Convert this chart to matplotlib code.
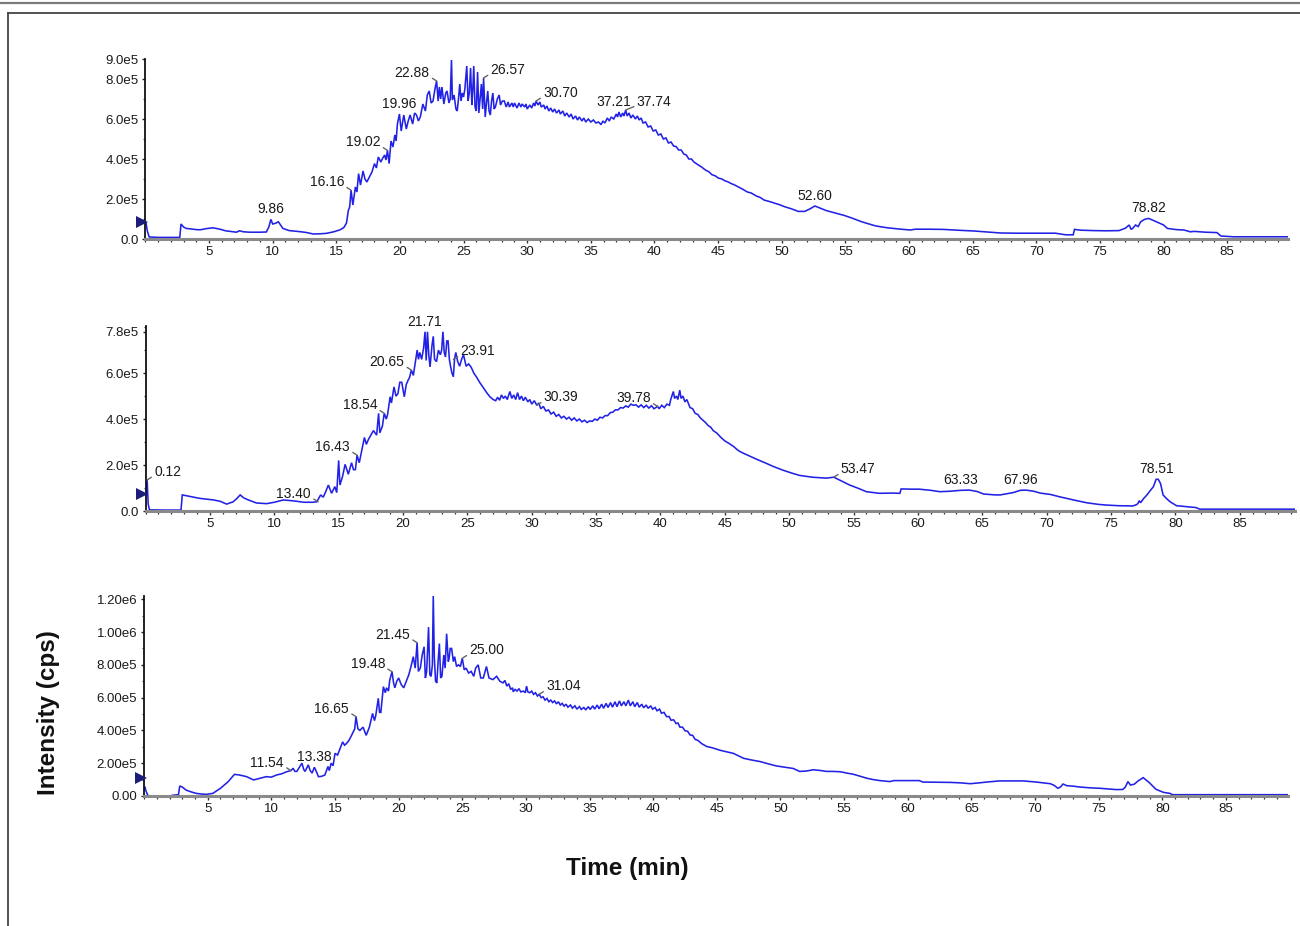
import numpy as np
import matplotlib
matplotlib.use("Agg")
import matplotlib.pyplot as plt
from matplotlib.lines import Line2D
from matplotlib.ticker import MultipleLocator
import matplotlib.transforms as mtransforms

plt.rcParams['font.family'] = ['Liberation Sans', 'DejaVu Sans']

# ---------------- data (time in min, intensity in 1e5 cps) ----------------
p1_trace = [
    (0.0, 0.85), (0.05, 0.8), (0.15, 0.4), (0.3, 0.1), (1.0, 0.08), (2.0, 0.08), (2.7, 0.08),
    (2.8, 0.75), (3.0, 0.6), (3.2, 0.53), (3.6, 0.5), (4.0, 0.47), (4.3, 0.46), (4.8, 0.52),
    (5.3, 0.56), (5.8, 0.5), (6.3, 0.41), (6.8, 0.37), (7.15, 0.34), (7.4, 0.41), (7.7, 0.36),
    (8.2, 0.34), (9.0, 0.34), (9.5, 0.35), (9.7, 0.6), (9.86, 0.98), (10.0, 0.75), (10.2, 0.78),
    (10.45, 0.86), (10.8, 0.53), (11.3, 0.42), (12.1, 0.37), (12.6, 0.33), (13.2, 0.25),
    (13.7, 0.26), (14.2, 0.28), (14.8, 0.36), (15.3, 0.46), (15.6, 0.58), (15.8, 0.8),
    (15.95, 1.44), (16.05, 1.6), (16.16, 2.44), (16.3, 1.7), (16.5, 2.6), (16.62, 2.35),
    (16.75, 3.27), (16.9, 2.7), (17.1, 3.4), (17.25, 3.0), (17.4, 2.85), (17.6, 3.1),
    (17.8, 3.35), (18.0, 3.77), (18.15, 3.55), (18.3, 4.1), (18.5, 3.85), (18.65, 4.05),
    (18.8, 4.2), (18.9, 3.95), (19.02, 4.43), (19.15, 3.77), (19.3, 4.9), (19.45, 4.6),
    (19.6, 5.2), (19.7, 4.9), (19.8, 5.75), (19.96, 6.25), (20.1, 5.4), (20.3, 6.2),
    (20.5, 5.5), (20.65, 5.9), (20.8, 6.2), (21.0, 5.75), (21.15, 6.3), (21.3, 6.2),
    (21.45, 5.9), (21.6, 6.1), (21.8, 6.75), (22.0, 6.4), (22.15, 7.2), (22.3, 7.4),
    (22.45, 6.8), (22.6, 6.9), (22.75, 7.5), (22.88, 7.9), (23.0, 6.9), (23.1, 7.6),
    (23.2, 7.0), (23.3, 7.6), (23.45, 6.75), (23.6, 7.3), (23.7, 7.4), (23.85, 6.8),
    (23.95, 7.0), (24.05, 8.95), (24.12, 6.95), (24.25, 7.2), (24.4, 6.5), (24.5, 6.4),
    (24.6, 7.0), (24.7, 7.75), (24.8, 6.9), (24.9, 7.3), (25.0, 7.1), (25.1, 7.5),
    (25.25, 8.65), (25.35, 6.9), (25.45, 7.3), (25.55, 8.55), (25.65, 6.7), (25.72, 7.4),
    (25.8, 8.65), (25.9, 6.6), (26.0, 6.4), (26.1, 8.35), (26.2, 6.3), (26.3, 7.0),
    (26.4, 7.75), (26.5, 6.5), (26.57, 8.05), (26.7, 6.1), (26.8, 6.8), (26.9, 7.4),
    (27.0, 6.4), (27.1, 6.2), (27.2, 6.9), (27.3, 7.3), (27.4, 6.5), (27.5, 6.6),
    (27.65, 7.0), (27.8, 7.2), (27.9, 6.7), (28.05, 6.9), (28.2, 6.9), (28.35, 6.6),
    (28.5, 6.85), (28.6, 6.6), (28.8, 6.8), (28.9, 6.6), (29.0, 6.8), (29.2, 6.55),
    (29.35, 6.8), (29.5, 6.6), (29.6, 6.75), (29.8, 6.6), (29.9, 6.75), (30.0, 6.5),
    (30.2, 6.7), (30.35, 6.55), (30.5, 6.8), (30.6, 6.65), (30.7, 6.9), (30.85, 6.7),
    (31.0, 6.85), (31.1, 6.6), (31.3, 6.7), (31.4, 6.5), (31.55, 6.65), (31.7, 6.4),
    (31.85, 6.55), (32.0, 6.35), (32.15, 6.5), (32.3, 6.3), (32.5, 6.45), (32.6, 6.25),
    (32.8, 6.4), (32.95, 6.15), (33.1, 6.3), (33.3, 6.1), (33.45, 6.25), (33.6, 6.0),
    (33.8, 6.15), (33.95, 5.95), (34.1, 6.1), (34.3, 5.9), (34.45, 6.05), (34.6, 5.85),
    (34.8, 6.0), (35.0, 5.85), (35.2, 5.95), (35.4, 5.8), (35.6, 5.85), (35.8, 5.72),
    (35.95, 5.9), (36.1, 5.8), (36.3, 6.05), (36.45, 5.9), (36.6, 6.1), (36.8, 6.0),
    (37.0, 6.25), (37.1, 6.1), (37.21, 6.35), (37.35, 6.1), (37.5, 6.3), (37.6, 6.15),
    (37.74, 6.45), (37.85, 6.15), (38.0, 6.3), (38.15, 6.05), (38.3, 6.2), (38.5, 6.0),
    (38.65, 6.15), (38.8, 5.95), (38.95, 6.05), (39.1, 5.8), (39.3, 5.85), (39.5, 5.6),
    (39.7, 5.65), (39.9, 5.4), (40.1, 5.45), (40.3, 5.2), (40.5, 5.25), (40.7, 5.0),
    (40.9, 5.05), (41.1, 4.8), (41.3, 4.85), (41.5, 4.65), (41.7, 4.62), (41.9, 4.45),
    (42.1, 4.45), (42.3, 4.25), (42.5, 4.2), (42.7, 4.0), (42.9, 4.0), (43.1, 3.85),
    (43.4, 3.72), (43.7, 3.6), (44.0, 3.45), (44.3, 3.35), (44.5, 3.22), (44.8, 3.15),
    (45.0, 3.05), (45.3, 3.0), (45.5, 2.92), (45.8, 2.85), (46.0, 2.78), (46.3, 2.7),
    (46.6, 2.6), (46.9, 2.5), (47.3, 2.35), (47.6, 2.3), (48.0, 2.15), (48.3, 2.08),
    (48.6, 1.95), (49.0, 1.88), (49.4, 1.8), (49.8, 1.72), (50.2, 1.62), (50.8, 1.5),
    (51.3, 1.38), (51.8, 1.38), (52.2, 1.5), (52.6, 1.65), (53.0, 1.55), (53.5, 1.42),
    (54.2, 1.3), (54.9, 1.18), (55.5, 1.05), (56.2, 0.88), (56.7, 0.78), (57.4, 0.65),
    (58.3, 0.56), (59.2, 0.5), (60.1, 0.45), (60.5, 0.49), (61.5, 0.49), (62.7, 0.48),
    (63.8, 0.44), (65.1, 0.40), (66.2, 0.35), (67.2, 0.30), (68.5, 0.29), (70.0, 0.29),
    (71.5, 0.29), (72.3, 0.21), (72.9, 0.21), (73.0, 0.48), (73.5, 0.44), (74.5, 0.42),
    (75.5, 0.41), (76.5, 0.42), (77.0, 0.54), (77.3, 0.70), (77.45, 0.48), (77.6, 0.55),
    (77.8, 0.70), (78.0, 0.62), (78.2, 0.86), (78.5, 0.98), (78.82, 1.03), (79.3, 0.9),
    (80.0, 0.70), (80.3, 0.53), (81.0, 0.47), (81.6, 0.45), (82.1, 0.36), (82.4, 0.38),
    (83.3, 0.34), (84.2, 0.32), (84.5, 0.15), (85.5, 0.11), (87.0, 0.11), (89.8, 0.11),
]

p2_trace = [
    (0.0, 0.6), (0.05, 0.9), (0.12, 1.35), (0.2, 0.3), (0.3, 0.05), (1.5, 0.04), (2.75, 0.04),
    (2.85, 0.7), (3.3, 0.65), (4.2, 0.55), (5.3, 0.48), (5.8, 0.42), (6.3, 0.30), (6.8, 0.40),
    (7.1, 0.55), (7.35, 0.70), (7.6, 0.58), (7.9, 0.5), (8.6, 0.35), (9.4, 0.32), (10.0, 0.38),
    (10.7, 0.48), (11.5, 0.44), (12.3, 0.38), (13.0, 0.38), (13.3, 0.40), (13.6, 0.70),
    (13.8, 0.6), (14.0, 0.85), (14.2, 1.13), (14.45, 0.77), (14.7, 1.06), (14.85, 0.8),
    (15.0, 2.2), (15.1, 1.13), (15.3, 1.5), (15.5, 2.03), (15.75, 1.6), (16.0, 2.1),
    (16.15, 1.8), (16.3, 1.8), (16.43, 2.43), (16.6, 2.1), (16.8, 2.65), (17.0, 3.2),
    (17.15, 2.9), (17.3, 3.1), (17.5, 3.3), (17.7, 3.5), (17.95, 3.3), (18.1, 4.25),
    (18.2, 3.4), (18.4, 3.7), (18.54, 4.25), (18.7, 4.0), (18.8, 4.2), (19.0, 4.97),
    (19.1, 4.7), (19.3, 5.4), (19.45, 5.0), (19.6, 5.1), (19.75, 5.6), (19.9, 5.6),
    (20.1, 4.97), (20.25, 5.5), (20.4, 5.7), (20.5, 5.8), (20.65, 6.13), (20.8, 5.9),
    (20.9, 6.27), (21.1, 7.0), (21.2, 6.6), (21.3, 6.9), (21.45, 6.6), (21.6, 7.1),
    (21.71, 7.8), (21.8, 6.55), (21.9, 7.8), (22.0, 6.8), (22.1, 6.27), (22.25, 7.2),
    (22.35, 7.6), (22.45, 6.6), (22.6, 6.5), (22.75, 7.0), (22.9, 6.8), (23.0, 7.0),
    (23.1, 7.8), (23.2, 6.9), (23.3, 6.7), (23.4, 7.4), (23.5, 7.4), (23.6, 6.6),
    (23.7, 6.27), (23.8, 6.0), (23.91, 5.84), (24.0, 6.6), (24.1, 6.9), (24.25, 6.5),
    (24.4, 6.3), (24.55, 6.6), (24.7, 6.8), (24.9, 6.3), (25.1, 6.4), (25.3, 6.25),
    (25.5, 6.0), (25.7, 5.84), (25.95, 5.6), (26.2, 5.4), (26.5, 5.15), (26.75, 4.97),
    (27.0, 4.85), (27.2, 4.8), (27.35, 4.95), (27.5, 4.82), (27.65, 5.05), (27.8, 4.9),
    (27.95, 5.0), (28.1, 4.85), (28.3, 5.2), (28.45, 4.9), (28.6, 5.05), (28.75, 4.85),
    (28.9, 5.15), (29.05, 4.85), (29.2, 5.0), (29.35, 4.8), (29.5, 4.95), (29.7, 4.75),
    (29.85, 4.85), (30.0, 4.65), (30.2, 4.8), (30.39, 4.6), (30.55, 4.7), (30.7, 4.45),
    (30.9, 4.55), (31.1, 4.35), (31.3, 4.4), (31.5, 4.22), (31.7, 4.3), (31.9, 4.12),
    (32.1, 4.2), (32.3, 4.05), (32.5, 4.12), (32.7, 4.0), (32.9, 4.08), (33.1, 3.95),
    (33.3, 4.05), (33.5, 3.92), (33.7, 4.0), (33.9, 3.88), (34.1, 3.95), (34.3, 3.85),
    (34.5, 3.92), (34.7, 3.9), (34.9, 4.0), (35.1, 3.95), (35.3, 4.08), (35.5, 4.05),
    (35.7, 4.15), (35.9, 4.15), (36.1, 4.28), (36.3, 4.3), (36.5, 4.4), (36.7, 4.4),
    (36.9, 4.5), (37.1, 4.48), (37.3, 4.57), (37.5, 4.52), (37.7, 4.65), (37.9, 4.6),
    (38.1, 4.62), (38.3, 4.52), (38.5, 4.62), (38.7, 4.5), (38.9, 4.6), (39.1, 4.48),
    (39.3, 4.58), (39.5, 4.45), (39.78, 4.55), (39.9, 4.45), (40.1, 4.6), (40.3, 4.5),
    (40.5, 4.65), (40.7, 4.6), (40.8, 4.85), (41.0, 5.2), (41.1, 4.9), (41.25, 5.0),
    (41.35, 4.85), (41.5, 5.26), (41.6, 4.9), (41.75, 5.0), (41.9, 4.75), (42.05, 4.85),
    (42.3, 4.5), (42.5, 4.45), (42.7, 4.25), (42.9, 4.2), (43.1, 4.05), (43.3, 3.95),
    (43.5, 3.85), (43.7, 3.72), (43.9, 3.65), (44.1, 3.5), (44.4, 3.38), (44.7, 3.2),
    (45.0, 3.05), (45.3, 2.95), (45.7, 2.8), (46.0, 2.65), (46.3, 2.55), (47.0, 2.37),
    (47.6, 2.22), (48.2, 2.08), (48.8, 1.93), (49.5, 1.78), (50.2, 1.65), (50.8, 1.55),
    (51.8, 1.47), (52.9, 1.43), (53.47, 1.47), (53.8, 1.38), (54.7, 1.13), (55.4, 0.98),
    (56.0, 0.84), (57.0, 0.77), (58.0, 0.78), (58.6, 0.77), (58.7, 0.96), (59.5, 0.95),
    (60.1, 0.95), (61.0, 0.9), (61.7, 0.84), (62.5, 0.86), (63.33, 0.9), (64.0, 0.91),
    (64.6, 0.85), (65.1, 0.74), (66.0, 0.70), (66.4, 0.70), (67.4, 0.80), (67.96, 0.9),
    (68.4, 0.91), (69.0, 0.86), (69.5, 0.78), (70.3, 0.72), (71.0, 0.62), (72.1, 0.48),
    (73.1, 0.36), (74.0, 0.29), (74.6, 0.26), (75.6, 0.23), (76.7, 0.22), (77.0, 0.28),
    (77.1, 0.33), (77.2, 0.45), (77.3, 0.36), (77.55, 0.55), (77.8, 0.70), (78.0, 0.85),
    (78.3, 1.06), (78.51, 1.38), (78.67, 1.38), (78.85, 1.2), (79.05, 0.70), (79.3, 0.55),
    (79.6, 0.40), (80.1, 0.23), (81.0, 0.18), (81.6, 0.15), (81.9, 0.08), (84.0, 0.08),
    (89.3, 0.08),
]

p3_trace = [
    (0.0, 0.4), (0.05, 0.57), (0.15, 0.3), (0.3, 0.02), (1.0, 0.0), (2.0, 0.0), (2.3, 0.05),
    (2.7, 0.08), (2.8, 0.61), (3.0, 0.55), (3.3, 0.36), (3.7, 0.25), (4.1, 0.16), (4.5, 0.12),
    (4.9, 0.10), (5.4, 0.16), (6.0, 0.47), (6.6, 0.87), (7.1, 1.32), (7.5, 1.28), (8.05, 1.18),
    (8.6, 0.98), (9.1, 1.08), (9.6, 1.18), (10.0, 1.15), (10.4, 1.28), (10.8, 1.35),
    (11.2, 1.48), (11.54, 1.55), (11.7, 1.69), (11.85, 1.5), (12.0, 1.5), (12.2, 1.75),
    (12.4, 2.0), (12.55, 1.6), (12.65, 1.5), (12.9, 1.9), (13.05, 1.55), (13.2, 1.4),
    (13.38, 1.75), (13.5, 1.55), (13.7, 1.18), (13.95, 1.2), (14.2, 1.28), (14.45, 1.8),
    (14.55, 1.55), (14.7, 2.0), (14.85, 1.85), (15.0, 2.6), (15.2, 2.5), (15.4, 2.9),
    (15.6, 3.3), (15.75, 3.1), (15.9, 3.2), (16.1, 3.4), (16.3, 3.7), (16.55, 4.1),
    (16.65, 4.84), (16.8, 4.1), (16.95, 4.0), (17.2, 4.2), (17.45, 3.7), (17.7, 4.2),
    (17.95, 5.04), (18.1, 4.6), (18.2, 4.9), (18.4, 5.96), (18.5, 5.1), (18.6, 5.1),
    (18.8, 6.67), (18.95, 6.3), (19.05, 6.6), (19.2, 6.4), (19.3, 7.07), (19.48, 7.58),
    (19.6, 6.9), (19.7, 6.6), (19.85, 7.0), (20.0, 7.2), (20.2, 6.8), (20.4, 6.6),
    (20.6, 7.0), (20.8, 7.4), (21.0, 8.0), (21.15, 8.5), (21.3, 7.8), (21.45, 9.35),
    (21.55, 7.6), (21.7, 7.8), (21.85, 8.6), (22.0, 9.1), (22.1, 7.2), (22.2, 7.6),
    (22.35, 10.3), (22.45, 7.4), (22.55, 7.3), (22.65, 8.0), (22.72, 12.2), (22.8, 8.5),
    (22.9, 7.0), (23.0, 6.9), (23.1, 8.2), (23.2, 9.3), (23.3, 7.2), (23.4, 7.3),
    (23.55, 8.6), (23.65, 7.8), (23.77, 9.9), (23.9, 8.2), (23.97, 8.4), (24.05, 9.0),
    (24.16, 9.0), (24.3, 8.2), (24.4, 8.5), (24.55, 7.9), (24.7, 8.0), (24.85, 7.9),
    (25.0, 8.4), (25.15, 7.7), (25.3, 7.8), (25.5, 7.5), (25.7, 7.6), (25.9, 7.3),
    (26.05, 7.8), (26.25, 8.0), (26.45, 7.2), (26.65, 7.2), (26.9, 7.9), (27.1, 7.2),
    (27.4, 7.1), (27.7, 7.3), (27.95, 7.0), (28.2, 6.9), (28.35, 7.05), (28.5, 6.7),
    (28.65, 6.85), (28.8, 6.5), (28.95, 6.6), (29.0, 6.36), (29.15, 6.5), (29.3, 6.4),
    (29.45, 6.55), (29.6, 6.35), (29.8, 6.4), (29.95, 6.3), (30.05, 6.7), (30.15, 6.35),
    (30.3, 6.3), (30.45, 6.4), (30.6, 6.2), (30.75, 6.3), (30.9, 6.1), (31.04, 6.2),
    (31.2, 6.0), (31.35, 6.05), (31.5, 5.85), (31.65, 5.95), (31.8, 5.75), (31.95, 5.85),
    (32.1, 5.7), (32.25, 5.8), (32.4, 5.62), (32.55, 5.75), (32.7, 5.55), (32.85, 5.65),
    (33.0, 5.48), (33.15, 5.6), (33.3, 5.42), (33.5, 5.55), (33.65, 5.36), (33.85, 5.5),
    (34.0, 5.3), (34.2, 5.45), (34.35, 5.28), (34.55, 5.4), (34.7, 5.25), (34.9, 5.45),
    (35.05, 5.28), (35.25, 5.5), (35.4, 5.3), (35.6, 5.55), (35.75, 5.32), (35.95, 5.6),
    (36.1, 5.35), (36.3, 5.65), (36.45, 5.4), (36.65, 5.7), (36.8, 5.42), (37.0, 5.75),
    (37.15, 5.45), (37.35, 5.8), (37.5, 5.5), (37.7, 5.75), (37.85, 5.5), (38.05, 5.85),
    (38.2, 5.5), (38.4, 5.75), (38.55, 5.45), (38.75, 5.7), (38.9, 5.42), (39.1, 5.6),
    (39.25, 5.38), (39.45, 5.55), (39.6, 5.35), (39.8, 5.5), (39.95, 5.3), (40.15, 5.4),
    (40.3, 5.2), (40.5, 5.3), (40.65, 5.05), (40.85, 5.1), (41.05, 4.84), (41.25, 4.85),
    (41.4, 4.62), (41.6, 4.65), (41.8, 4.42), (41.95, 4.45), (42.1, 4.2), (42.3, 4.2),
    (42.5, 3.98), (42.7, 3.95), (42.9, 3.72), (43.1, 3.7), (43.3, 3.45), (43.5, 3.4),
    (43.8, 3.2), (44.2, 3.02), (44.6, 2.95), (45.0, 2.85), (45.3, 2.78), (46.3, 2.6),
    (47.1, 2.3), (47.7, 2.2), (48.4, 2.1), (49.1, 1.95), (49.7, 1.83), (50.4, 1.75),
    (51.0, 1.68), (51.5, 1.5), (52.0, 1.52), (52.6, 1.6), (53.2, 1.55), (53.6, 1.5),
    (54.1, 1.5), (54.7, 1.48), (55.2, 1.4), (55.7, 1.33), (56.2, 1.22), (56.8, 1.08),
    (57.3, 1.0), (57.8, 0.94), (58.6, 0.88), (58.9, 0.94), (60.0, 0.94), (60.9, 0.94),
    (61.2, 0.85), (62.3, 0.84), (63.3, 0.83), (64.2, 0.8), (64.9, 0.75), (65.6, 0.8),
    (66.2, 0.85), (67.2, 0.92), (68.1, 0.92), (69.1, 0.92), (70.1, 0.85), (71.2, 0.75),
    (71.5, 0.65), (71.8, 0.47), (72.0, 0.55), (72.2, 0.73), (72.5, 0.63), (73.0, 0.6),
    (73.5, 0.55), (74.3, 0.5), (75.1, 0.47), (75.8, 0.43), (76.4, 0.39), (76.9, 0.4),
    (77.1, 0.55), (77.3, 0.88), (77.5, 0.67), (77.8, 0.72), (78.1, 0.92), (78.5, 1.12),
    (79.0, 0.8), (79.5, 0.41), (80.1, 0.22), (80.6, 0.16), (80.8, 0.08), (85.0, 0.08),
    (89.9, 0.08),
]

# peak labels (retention time) and threshold marker level (1e5 cps)
p1_peaks = ["9.86", "16.16", "19.02", "19.96", "22.88", "26.57", "30.70", "37.21", "37.74", "52.60", "78.82"]
p2_peaks = ["0.12", "13.40", "16.43", "18.54", "20.65", "21.71", "23.91", "30.39", "39.78", "53.47", "63.33", "67.96", "78.51"]
p3_peaks = ["11.54", "13.38", "16.65", "19.48", "21.45", "25.00", "31.04"]
p1_threshold = 0.85
p2_threshold = 0.75
p3_threshold = 1.1

# tick values / labels
x_ticks = [5, 10, 15, 20, 25, 30, 35, 40, 45, 50, 55, 60, 65, 70, 75, 80, 85]
p1_yticks = [0, 2, 4, 6, 8, 9]
p1_ylabels = ["0.0", "2.0e5", "4.0e5", "6.0e5", "8.0e5", "9.0e5"]
p2_yticks = [0, 2, 4, 6, 7.8]
p2_ylabels = ["0.0", "2.0e5", "4.0e5", "6.0e5", "7.8e5"]
p3_yticks = [0, 2, 4, 6, 8, 10, 12]
p3_ylabels = ["0.00", "2.00e5", "4.00e5", "6.00e5", "8.00e5", "1.00e6", "1.20e6"]

# label placement (l = text left of peak, r = right, c = centered above,
# c- = above but nudged left, r+ = right with a wider gap)
p1_sides = ["c", "l", "l", "c", "l", "r", "r", "c-", "r+", "c", "c"]
p2_sides = ["r", "l", "l", "l", "l", "c", "r", "r", "l", "r", "c", "c", "c"]
p3_sides = ["l", "c", "l", "l", "l", "r", "r"]

# ---------------- layout ----------------
W, H = 1300, 926
fig = plt.figure(figsize=(W / 100, H / 100), dpi=100)
fig.patch.set_facecolor("white")

def fx(px):
    return px / W

def fy(py):
    return 1 - py / H

panels = [
    dict(trace=p1_trace, left=145.4, right=1288.3, top=59, bottom=239, xmax=89.8, ymax=9.0,
         yt=p1_yticks, yl=p1_ylabels, peaks=p1_peaks, sides=p1_sides, thr=p1_threshold),
    dict(trace=p2_trace, left=145.6, right=1295.0, top=326, bottom=511, xmax=89.3, ymax=8.05,
         yt=p2_yticks, yl=p2_ylabels, peaks=p2_peaks, sides=p2_sides, thr=p2_threshold),
    dict(trace=p3_trace, left=144.1, right=1288.3, top=596, bottom=796, xmax=89.9, ymax=12.2,
         yt=p3_yticks, yl=p3_ylabels, peaks=p3_peaks, sides=p3_sides, thr=p3_threshold),
]

LINE_COLOR = "#2222e6"
TXT = "#1a1a1a"
ANN_FS = 10
# side code -> (dx, dy in pixels, ha, va, leader relpos or None)
PLACE = {
    "c": (0, 3, "center", "bottom", None),
    "c-": (-5, 3, "center", "bottom", None),
    "l": (-7, 8, "right", "center", (1.0, 0.25)),
    "r": (7, 8, "left", "center", (0.0, 0.25)),
    "r+": (11, 8, "left", "center", (0.0, 0.25)),
}

for P in panels:
    ax = fig.add_axes([fx(P["left"]), fy(P["bottom"]),
                       fx(P["right"] - P["left"]), (P["bottom"] - P["top"]) / H])
    arr = np.array(P["trace"], dtype=float)
    t, v = arr[:, 0], arr[:, 1] * 1e5
    ax.plot(t, v, color=LINE_COLOR, lw=1.15, solid_joinstyle="miter")
    ax.set_xlim(0, P["xmax"])
    ax.set_ylim(0, P["ymax"] * 1e5)

    for s in ("top", "right"):
        ax.spines[s].set_visible(False)
    ax.spines["left"].set_color("#111111")
    ax.spines["left"].set_linewidth(1.3)
    ax.spines["bottom"].set_color("#8a8a8a")
    ax.spines["bottom"].set_linewidth(2.2)

    ax.set_xticks(x_ticks)
    ax.set_xticklabels([str(x) for x in x_ticks])
    ax.xaxis.set_minor_locator(MultipleLocator(1))
    ax.tick_params(axis="x", which="major", length=2.8, width=1.0, color="#333333",
                   labelsize=9.5, pad=2.5, labelcolor=TXT)
    ax.tick_params(axis="x", which="minor", length=2.0, width=0.9, color="#333333")

    ax.set_yticks([y * 1e5 for y in P["yt"]])
    ax.set_yticklabels(P["yl"])
    ax.yaxis.set_minor_locator(MultipleLocator(1e5))
    ax.tick_params(axis="y", which="major", length=2.5, width=1.0, color="#222222",
                   labelsize=9.5, pad=2.5, labelcolor=TXT)
    ax.tick_params(axis="y", which="minor", length=1.8, width=0.8, color="#444444")

    # threshold marker on the y axis
    tr = mtransforms.offset_copy(ax.transData, fig=fig, x=-3.5, y=0, units="dots")
    ax.plot([0], [P["thr"] * 1e5], marker=">", ms=8.5, color="#1c1c7a", mew=0,
            transform=tr, clip_on=False, zorder=5)

    # peak labels
    for lab, side in zip(P["peaks"], P["sides"]):
        rt = float(lab)
        m = (t >= rt - 0.1) & (t <= rt + 0.1)
        yv = v[m].max() if m.any() else np.interp(rt, t, v)
        dx, dy, ha, va, rel = PLACE[side]
        kw = {}
        if rel is not None:
            kw["arrowprops"] = dict(arrowstyle="-", color="#666666", lw=1.0,
                                    relpos=rel, shrinkA=0, shrinkB=0)
        ax.annotate(lab, (rt, yv), xytext=(dx, dy), textcoords="offset pixels",
                    ha=ha, va=va, fontsize=ANN_FS, color=TXT, **kw)

# axis titles
fig.text(fx(49), fy(713), "Intensity (cps)", rotation=90, ha="center", va="center",
         fontsize=17.5, fontweight="bold", color="#111111")
fig.text(fx(627), fy(869), "Time (min)", ha="center", va="center",
         fontsize=17.5, fontweight="bold", color="#111111")

# frame lines
fig.add_artist(Line2D([0, 1], [fy(2.5), fy(2.5)], color="#7a7a7a", lw=1.6,
                      transform=fig.transFigure))
fig.add_artist(Line2D([fx(8.3), fx(8.3)], [fy(12.7), 0], color="#444444", lw=1.3,
                      transform=fig.transFigure))
fig.add_artist(Line2D([fx(8.3), 1], [fy(12.7), fy(12.7)], color="#444444", lw=1.3,
                      transform=fig.transFigure))

fig.savefig("out.png", dpi=100)
